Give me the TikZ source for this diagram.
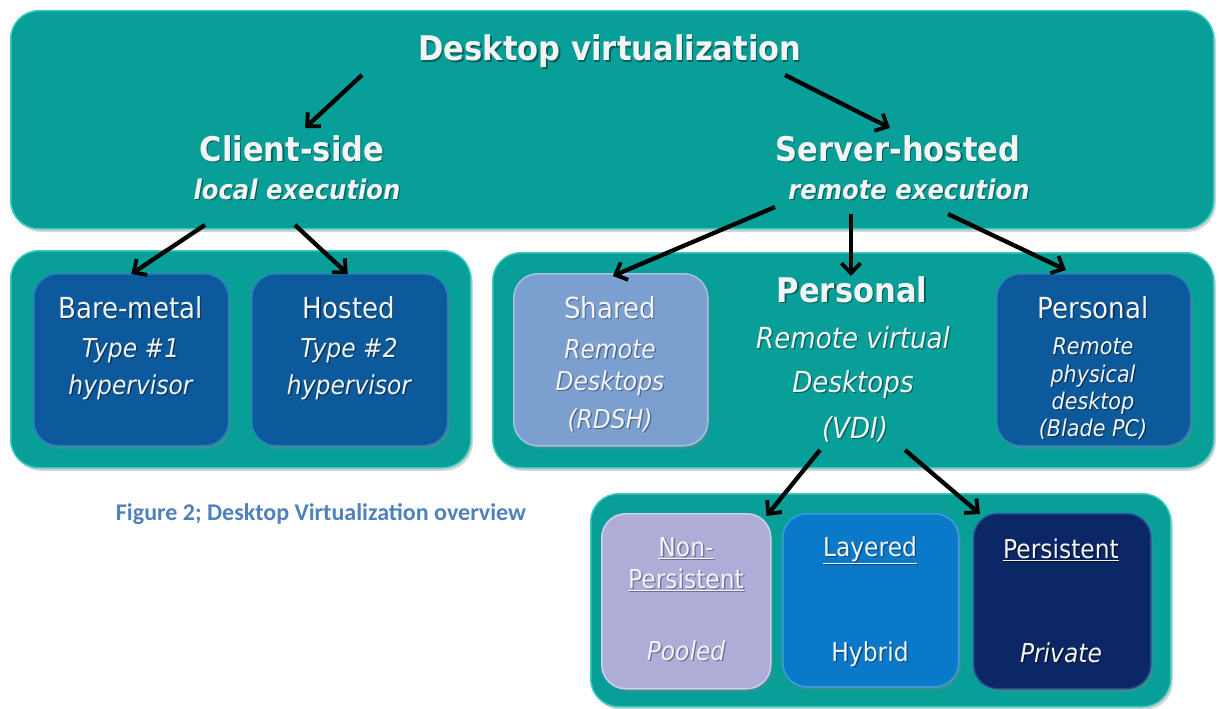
\documentclass[tikz,border=0pt]{standalone}
\usepackage{fontspec}
\setmainfont{DejaVu Sans}[FakeStretch=0.9]
\newfontfamily\capfont{Carlito}
\usetikzlibrary{arrows.meta,shadows,calc}
\definecolor{tealbg}{HTML}{079F98}
\definecolor{tealedge}{HTML}{3CCBC3}
\definecolor{tealsh}{HTML}{04605C}
\definecolor{dblue}{HTML}{0C5A9C}
\definecolor{dblueedge}{HTML}{2D7FC2}
\definecolor{dbluesh}{HTML}{06325A}
\definecolor{sblue}{HTML}{7B9FCF}
\definecolor{sblueedge}{HTML}{A5C0E3}
\definecolor{sbluesh}{HTML}{4A6590}
\definecolor{lav}{HTML}{AEADD8}
\definecolor{laveedge}{HTML}{CFCEEC}
\definecolor{lavsh}{HTML}{6E6D98}
\definecolor{lblue}{HTML}{0A79CA}
\definecolor{lblueedge}{HTML}{3E9CE0}
\definecolor{lbluesh}{HTML}{064A80}
\definecolor{navy}{HTML}{0B2766}
\definecolor{navyedge}{HTML}{2B4A8C}
\definecolor{navysh}{HTML}{040F2C}
\definecolor{txtc}{HTML}{F4F4F4}
\definecolor{capc}{HTML}{4F81BD}
\colorlet{shc}{tealsh}
\newcommand{\ts}[1]{\leavevmode\rlap{\kern1.3pt\raisebox{-1.3pt}{\color{shc}#1}}#1}
\begin{document}
\begin{tikzpicture}[x=1pt,y=-1pt,
  shd/.style={drop shadow={opacity=0.35,shadow xshift=2pt,shadow yshift=-3pt}},
  outer/.style={shd,draw=tealedge,line width=1.5pt,fill=tealbg,rounded corners=28pt,anchor=north west,inner sep=0pt},
  inner/.style={shd,line width=1.5pt,rounded corners=24pt,anchor=north west,inner sep=0pt},
  sc/.style={execute at begin node={\colorlet{shc}{#1}}},
  t/.style={text=txtc,inner sep=0pt,anchor=base},
  ttl/.style={t,font=\fontsize{34}{40}\selectfont\bfseries},
  sub/.style={t,font=\fontsize{27}{32}\selectfont\bfseries\itshape},
  bxa/.style={t,font=\fontsize{29}{34}\selectfont},
  bxi/.style={t,font=\fontsize{26}{30}\selectfont\itshape},
  bxs/.style={t,font=\fontsize{23}{28}\selectfont\itshape},
  bxr/.style={t,font=\fontsize{26}{30}\selectfont},
  arr/.style={-{Straight Barb[length=10pt,width=19pt,line width=3.8pt]},line width=4.3pt,black}
]
\useasboundingbox (0,0) rectangle (1219,709);

% outer containers
\node[outer,minimum width=1203pt,minimum height=218pt] (top) at (10,10) {};
\node[outer,minimum width=460pt,minimum height=217pt] (left) at (10,250) {};
\node[outer,minimum width=721pt,minimum height=215pt] (right) at (492,252) {};
\node[outer,minimum width=580pt,minimum height=213pt] (bottom) at (590,493) {};

% inner boxes
\node[inner,fill=dblue,draw=dblueedge,minimum width=195pt,minimum height=172pt] (bm) at (33,273) {};
\node[inner,fill=dblue,draw=dblueedge,minimum width=196pt,minimum height=172pt] (hs) at (251,273) {};
\node[inner,fill=sblue,draw=sblueedge,minimum width=194pt,minimum height=172pt] (sh) at (513,273) {};
\node[inner,fill=dblue,draw=dblueedge,minimum width=194pt,minimum height=172pt] (pb) at (996,273) {};
\node[inner,fill=lav,draw=laveedge,minimum width=169pt,minimum height=175pt] (np) at (601,513) {};
\node[inner,fill=lblue,draw=lblueedge,minimum width=176pt,minimum height=173pt] (ly) at (782,513) {};
\node[inner,fill=navy,draw=navyedge,minimum width=177pt,minimum height=175pt] (ps) at (973,513) {};

% top texts
\node[ttl] (title) at (610,61) {\ts{Desktop virtualization}};
\node[ttl] (cs) at (292,161) {\ts{Client-side}};
\node[sub] (le) at (297,199) {\ts{local execution}};
\node[ttl] (svh) at (898,161) {\ts{Server-hosted}};
\node[sub] (re) at (909,199) {\ts{remote execution}};

% left boxes texts
\node[bxa,sc=dbluesh] (bm1) at (130.5,318) {\ts{Bare-metal}};
\node[bxi,sc=dbluesh] (bm2) at (130.5,357) {\ts{Type \#1}};
\node[bxi,sc=dbluesh] (bm3) at (130.5,394) {\ts{hypervisor}};
\node[bxa,sc=dbluesh] (hs1) at (349,318) {\ts{Hosted}};
\node[bxi,sc=dbluesh] (hs2) at (349,357) {\ts{Type \#2}};
\node[bxi,sc=dbluesh] (hs3) at (349,394) {\ts{hypervisor}};

% shared
\node[bxa,sc=sbluesh] (sh1) at (610,318) {\ts{Shared}};
\node[bxi,sc=sbluesh] (sh2) at (610,358) {\ts{Remote}};
\node[bxi,sc=sbluesh] (sh3) at (610,390) {\ts{Desktops}};
\node[bxi,sc=sbluesh] (sh4) at (610,428) {\ts{(RDSH)}};

% personal (VDI)
\node[ttl] (pv1) at (852,302) {\ts{Personal}};
\node[t,font=\fontsize{29}{34}\selectfont\itshape] (pv2) at (853,348) {\ts{Remote virtual}};
\node[t,font=\fontsize{29}{34}\selectfont\itshape] (pv3) at (853,392) {\ts{Desktops}};
\node[t,font=\fontsize{29}{34}\selectfont\itshape] (pv4) at (855,438) {\ts{(VDI)}};

% personal blade
\node[bxa,sc=dbluesh] (pb1) at (1093,318) {\ts{Personal}};
\node[bxs,sc=dbluesh] (pb2) at (1093,354) {\ts{Remote}};
\node[bxs,sc=dbluesh] (pb3) at (1093,382) {\ts{physical}};
\node[bxs,sc=dbluesh] (pb4) at (1093,409) {\ts{desktop}};
\node[bxs,sc=dbluesh] (pb5) at (1093,436) {\ts{(Blade PC)}};

% bottom boxes
\node[bxr,sc=lavsh] (np1) at (686,556) {\ts{\underline{Non-}}};
\node[bxr,sc=lavsh] (np2) at (686,588) {\ts{\underline{Persistent}}};
\node[bxi,sc=lavsh] (np3) at (686,660) {\ts{Pooled}};
\node[bxr,sc=lbluesh] (ly1) at (870,556) {\ts{\underline{Layered}}};
\node[bxr,sc=lbluesh] (ly2) at (870,661) {\ts{Hybrid}};
\node[bxr,sc=navysh] (ps1) at (1061,558) {\ts{\underline{Persistent}}};
\node[bxi,sc=navysh] (ps2) at (1061,662) {\ts{Private}};

% caption
\node[inner sep=0pt,anchor=base,text=capc,font=\capfont\bfseries\fontsize{24}{28}\selectfont] (cap) at (321,520) {Figure 2; Desktop Virtualization overview};

% arrow end points
\coordinate (a1s) at (362,75);  \coordinate (a1e) at (305,128);
\coordinate (a2s) at (785,75);  \coordinate (a2e) at (890,128);
\coordinate (a3s) at (205,225); \coordinate (a4s) at (295,225);
\coordinate (a5s) at (775,207); \coordinate (a6s) at (851,214); \coordinate (a7s) at (948,214);
\coordinate (a7e) at (1066,270);
\coordinate (a8s) at (820,450); \coordinate (a9s) at (905,450);

\draw[arr] (a1s) -- (a1e);
\draw[arr] (a2s) -- (a2e);
\draw[arr] (a3s) -- ($(bm.north)+(0,1)$);
\draw[arr] (a4s) -- ($(hs.north)+(-2,1)$);
\draw[arr] (a5s) -- ($(sh.north)+(2,3)$);
\draw[arr] (a6s) -- (a6s |- pv1.north);
\draw[arr] (a7s) -- (a7e);
\draw[arr] (a8s) -- ($(np.north east)+(-5,3)$);
\draw[arr] (a9s) -- ($(ps.north west)+(7,1)$);
\end{tikzpicture}
\end{document}
